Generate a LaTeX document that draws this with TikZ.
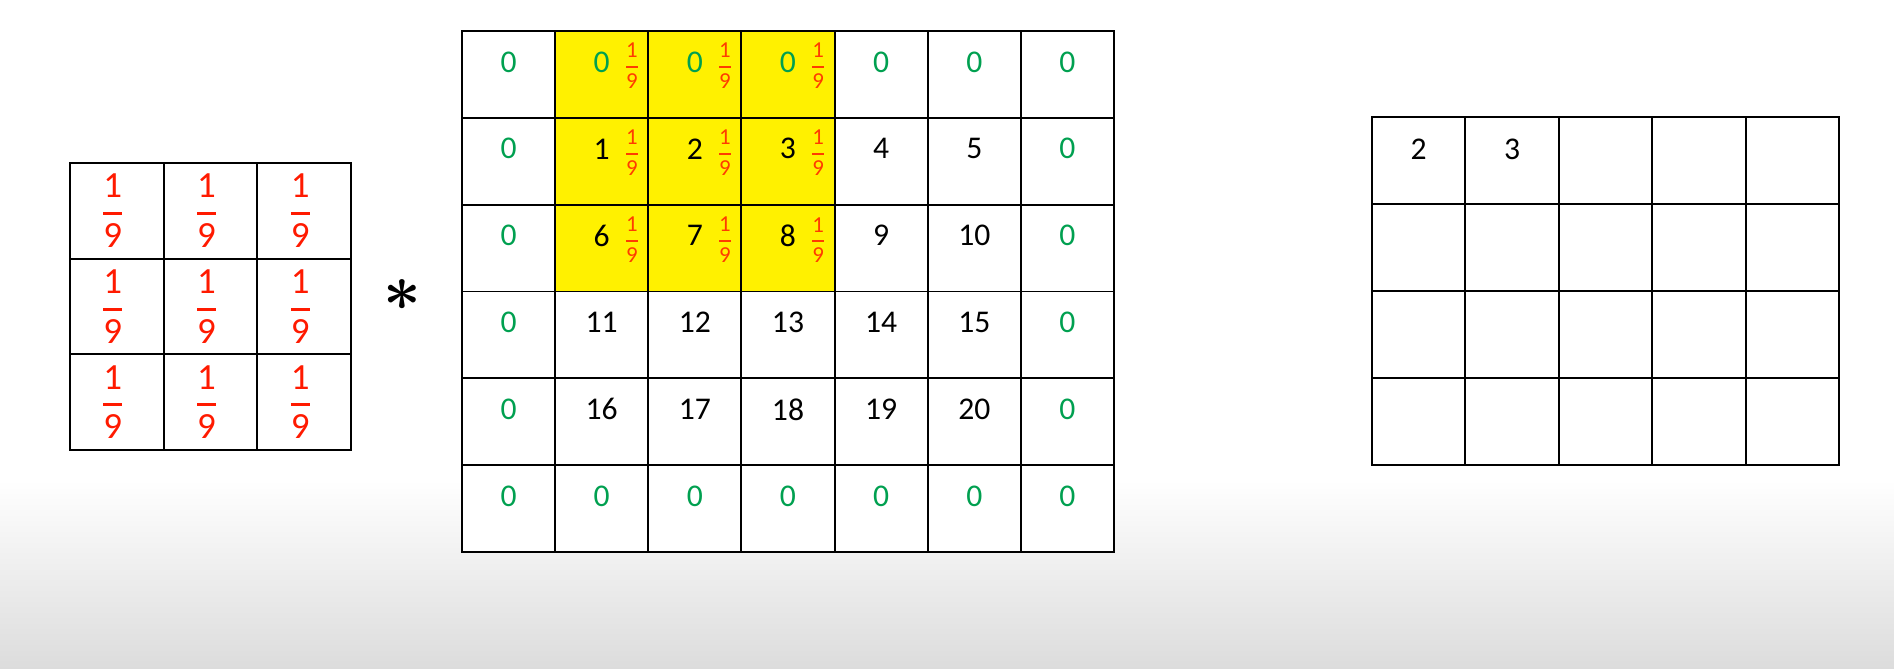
\documentclass[tikz,border=0pt]{standalone}
\usepackage{amsmath}
\usepackage{fontspec}
\setmainfont{Carlito}
\usepackage{tikz}
\usetikzlibrary{positioning}
\usepackage{xcolor}
\definecolor{cellyellow}{RGB}{255,241,0}
\definecolor{zerogreen}{RGB}{0,160,80}
\definecolor{fracred}{RGB}{255,26,0}
\definecolor{fracorange}{RGB}{255,60,0}
\definecolor{floorgray}{RGB}{220,220,220}
\newcommand{\ninth}[1]{$\genfrac{}{}{#1}{0}{\text{1}}{\text{9}}$}
\tikzset{
  cell/.style={draw,line width=1.1pt,inner sep=0pt,minimum width=1.864cm,minimum height=1.737cm},
  kcell/.style={cell,minimum width=1.873cm,minimum height=1.913cm},
  ocell/.style={cell,minimum width=1.868cm,minimum height=1.74cm},
  num/.style={inner sep=0pt,font=\fontsize{18}{22}\selectfont},
  smallfrac/.style={inner sep=0pt,text=fracorange,font=\fontsize{13}{15}\selectfont},
  bigfrac/.style={inner sep=0pt,text=fracred,font=\fontsize{21}{25}\selectfont},
}

\begin{document}
\begin{tikzpicture}[x=0.02cm,y=-0.02cm]
% page and floor shading
\fill[white] (0,0) rectangle (1894,669);
\shade[top color=white,bottom color=floorgray] (0,480) rectangle (1894,669);
\useasboundingbox (0,0) rectangle (1894,669);

% kernel
\foreach \r in {0,1,2}
  \foreach \c in {0,1,2} {
    \node[kcell] (k-\r-\c) at ({70+93.67*(\c+0.5)},{163+95.67*(\r+0.5)}) {};
    \node[bigfrac,xshift=-0.08cm] (kf-\r-\c) at (k-\r-\c) {\ninth{1.6pt}};
  }

\node[font=\fontsize{20}{24}\selectfont,scale=1.8] (star) at (402,295) {$\boldsymbol{\ast}$};

% padded input
\foreach \r in {0,...,5}
  \foreach \c in {0,...,6} {
    \pgfmathtruncatemacro\v{5*(\r-1)+\c}
    \pgfmathtruncatemacro\hot{and(\r<3,and(\c>0,\c<4))}
    \pgfmathtruncatemacro\edge{or(or(\r==0,\r==5),or(\c==0,\c==6))}
    \ifnum\hot=1 \def\cellfill{cellyellow}\else\def\cellfill{white}\fi
    \ifnum\edge=1 \def\numcol{zerogreen}\def\numtxt{0}\else\def\numcol{black}\edef\numtxt{\v}\fi
    \node[cell,fill=\cellfill] (in-\r-\c) at ({462+93.14*(\c+0.5)},{31+86.83*(\r+0.5)}) {};
    \node[num,text=\numcol] (n-\r-\c) at ({462+93.14*(\c+0.5)},{31+86.83*\r+31}) {\numtxt};
    \ifnum\hot=1
      \node[smallfrac,base right=0.27cm of n-\r-\c] (f-\r-\c) {\ninth{1.1pt}};
    \fi
  }

% output
\foreach \r in {0,...,3}
  \foreach \c in {0,...,4}
    \node[ocell] (out-\r-\c) at ({1372+93.4*(\c+0.5)},{117+87*(\r+0.5)}) {};
\node[num] (o-0) at ([yshift=-0.66cm]out-0-0.north) {2};
\node[num] (o-1) at ([yshift=-0.66cm]out-0-1.north) {3};
\end{tikzpicture}
\end{document}
